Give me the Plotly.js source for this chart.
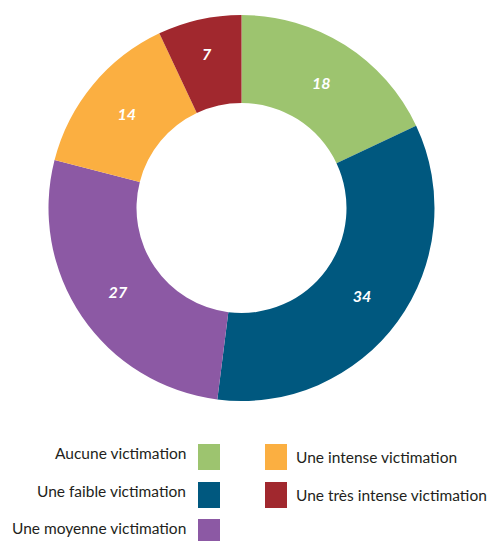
<!DOCTYPE html>
<html>
<head>
<meta charset="utf-8">
<script src="https://cdn.plot.ly/plotly-3.0.1.min.js"></script>
<style>html,body{margin:0;padding:0;background:#fff;}#chart{width:491px;height:541px;}</style>
</head>
<body>
<div id="chart"></div>
<script>
const categories = ["Aucune victimation", "Une faible victimation", "Une moyenne victimation", "Une intense victimation", "Une très intense victimation"];
const values = [18, 34, 27, 14, 7];
const colors = ["#9DC46F", "#00587F", "#8C59A4", "#FBAF41", "#A1282E"];

// legend layout: [column, row]
const legendCols = [0, 0, 0, 1, 1];
const legendRows = [0, 1, 2, 0, 1];

const W = 491, H = 541;
const cx = 241.5, cy = 208, R = 193;

const trace = {
  type: "pie",
  labels: categories,
  values: values,
  sort: false,
  direction: "clockwise",
  rotation: 0,
  hole: 105 / 193,
  marker: { colors: colors, line: { width: 0 } },
  text: values.map(String),
  textinfo: "text",
  textposition: "inside",
  insidetextorientation: "horizontal",
  textfont: { family: "Lato, 'Open Sans', sans-serif", size: 16, color: "#ffffff", weight: "bold", style: "italic" },
  hoverinfo: "label+value",
  showlegend: false,
  domain: { x: [(cx - R) / W, (cx + R) / W], y: [1 - (cy + R) / H, 1 - (cy - R) / H] }
};

const shapes = [];
const annotations = [];
const sqX = [198, 265], sqW = 22, sqH = 26;
const rowTop = [444, 482, 519];
for (let i = 0; i < categories.length; i++) {
  const c = legendCols[i], r = legendRows[i];
  const x0 = sqX[c], y0 = rowTop[r];
  shapes.push({ type: "rect", xref: "paper", yref: "paper",
    x0: x0 / W, x1: (x0 + sqW) / W, y0: 1 - (y0 + sqH) / H, y1: 1 - y0 / H,
    fillcolor: colors[i], line: { width: 0 } });
  const ty = c === 0 ? y0 + 9 : y0 + 13;
  annotations.push({ xref: "paper", yref: "paper",
    x: c === 0 ? 188 / W : 294 / W, y: 1 - ty / H,
    xanchor: c === 0 ? "right" : "left", yanchor: "middle",
    text: categories[i], showarrow: false,
    font: { family: "Lato, 'Open Sans', sans-serif", size: 15.5, color: "#231f20" } });
}

Plotly.newPlot("chart", [trace], {
  width: W, height: H,
  margin: { l: 0, r: 0, t: 0, b: 0 },
  paper_bgcolor: "#ffffff",
  showlegend: false,
  shapes: shapes,
  annotations: annotations
}, { displayModeBar: false, staticPlot: true });
</script>
</body>
</html>
